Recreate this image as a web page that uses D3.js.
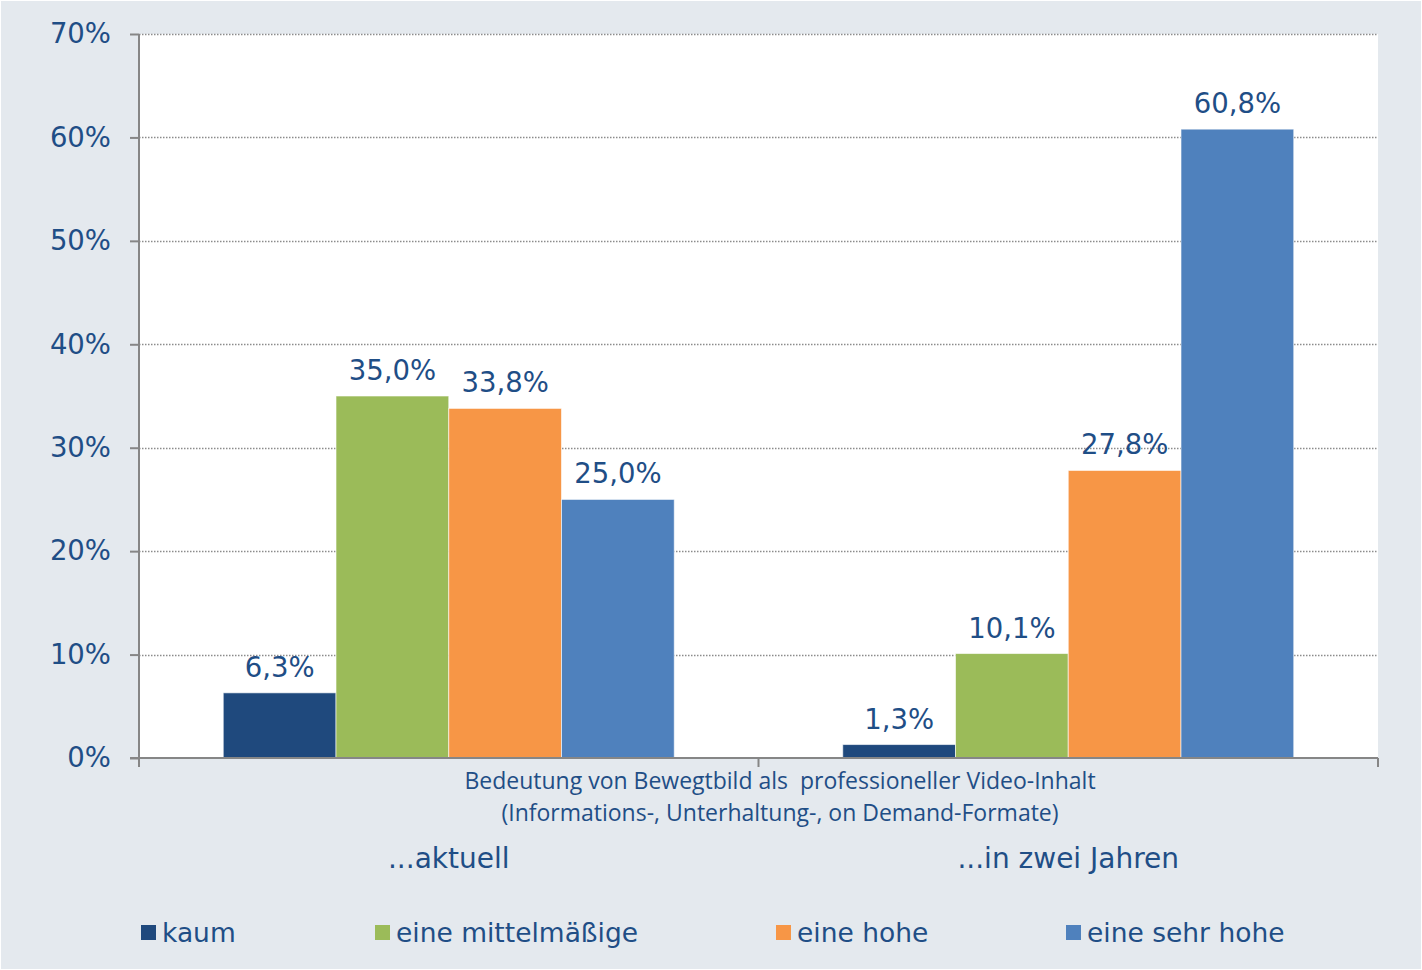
<!DOCTYPE html>
<html>
<head>
<meta charset="utf-8">
<script src="https://cdn.jsdelivr.net/npm/d3@7"></script>
<style>
  html, body { margin: 0; padding: 0; background: #ffffff; }
  svg { display: block; }
</style>
</head>
<body>
<div id="chart"></div>
<script>
// chart data
const categories = ['...aktuell', '...in zwei Jahren'];
const seriesNames = ['kaum', 'eine mittelmäßige', 'eine hohe', 'eine sehr hohe'];
const kaum = [6.3, 1.3];
const mittel = [35.0, 10.1];
const hohe = [33.8, 27.8];
const sehrHohe = [25.0, 60.8];
const yTicks = [0, 10, 20, 30, 40, 50, 60, 70];
const axisTitle = ['Bedeutung von Bewegtbild als  professioneller Video-Inhalt',
  '(Informations-, Unterhaltung-, on Demand-Formate)'];

const seriesValues = [kaum, mittel, hohe, sehrHohe];
const colors = ['#1f497d', '#9bbb59', '#f79646', '#4f81bd'];
const textColor = '#1f4e86';
const mainFont = 'DejaVu Sans, Verdana, sans-serif';

const W = 1422, H = 970;
const plot = { left: 139, right: 1378, top: 34, bottom: 758 };

const svg = d3.select('#chart').append('svg')
  .attr('width', W).attr('height', H);

// background
svg.append('rect').attr('x', 1).attr('y', 1).attr('width', W - 2).attr('height', H - 2)
  .attr('fill', '#e4e9ee');
svg.append('rect')
  .attr('x', plot.left).attr('y', plot.top)
  .attr('width', plot.right - plot.left).attr('height', plot.bottom - plot.top)
  .attr('fill', '#ffffff');

// scales
const y = d3.scaleLinear().domain([0, 70]).range([plot.bottom, plot.top]);
const x0 = d3.scaleBand().domain(categories).range([plot.left, plot.right])
  .paddingInner(0.272).paddingOuter(0.136);
const x1 = d3.scaleBand().domain(seriesNames).range([0, x0.bandwidth()]);

// grid lines
svg.append('g')
  .selectAll('line')
  .data(yTicks.filter(d => d > 0))
  .join('line')
  .attr('x1', plot.left).attr('x2', plot.right)
  .attr('y1', d => Math.round(y(d)) + 0.5).attr('y2', d => Math.round(y(d)) + 0.5)
  .attr('stroke', '#8c8c8c')
  .attr('stroke-width', 1.5)
  .attr('stroke-dasharray', '1.5,1.5');

// bars
const rows = categories.map((c, i) => ({ cat: c, vals: seriesNames.map((s, j) => ({ s, j, v: seriesValues[j][i] })) }));
const groups = svg.append('g').selectAll('g')
  .data(rows)
  .join('g')
  .attr('transform', d => `translate(${x0(d.cat)},0)`);

groups.selectAll('rect')
  .data(d => d.vals)
  .join('rect')
  .attr('x', d => x1(d.s))
  .attr('y', d => y(d.v))
  .attr('width', x1.bandwidth())
  .attr('height', d => y(0) - y(d.v))
  .attr('fill', d => colors[d.j])
  .attr('stroke', 'rgba(255,255,255,0.6)')
  .attr('stroke-width', 1);

// data labels
groups.selectAll('text')
  .data(d => d.vals)
  .join('text')
  .attr('x', d => x1(d.s) + x1.bandwidth() / 2)
  .attr('y', d => y(d.v) - 16)
  .attr('text-anchor', 'middle')
  .attr('font-family', mainFont)
  .attr('font-size', 27.5)
  .attr('fill', textColor)
  .text(d => d.v.toFixed(1).replace('.', ',') + '%');

// y axis
const yAxis = svg.append('g')
  .attr('transform', `translate(${plot.left},0)`)
  .call(d3.axisLeft(y).tickValues(yTicks).tickSize(9).tickPadding(19)
    .tickFormat(d => d + '%'));
yAxis.select('.domain').remove();
yAxis.append('line')
  .attr('x1', 0).attr('x2', 0).attr('y1', plot.top).attr('y2', plot.bottom + 9);
yAxis.selectAll('line').attr('stroke', '#868686').attr('stroke-width', 2);
yAxis.selectAll('text')
  .attr('font-family', mainFont)
  .attr('font-size', 27.5)
  .attr('fill', textColor);

// x axis
const xAxis = svg.append('g');
xAxis.append('line')
  .attr('x1', plot.left - 9).attr('x2', plot.right)
  .attr('y1', plot.bottom).attr('y2', plot.bottom)
  .attr('stroke', '#868686').attr('stroke-width', 2);
xAxis.selectAll('line.tick')
  .data([plot.left + x0.step(), plot.right])
  .join('line')
  .attr('class', 'tick')
  .attr('x1', d => d).attr('x2', d => d)
  .attr('y1', plot.bottom).attr('y2', plot.bottom + 9)
  .attr('stroke', '#868686').attr('stroke-width', 2);

// axis title (two lines)
svg.append('g').selectAll('text')
  .data(axisTitle)
  .join('text')
  .attr('x', 780)
  .attr('y', (d, i) => 789 + i * 32)
  .attr('text-anchor', 'middle')
  .attr('font-family', 'Open Sans, sans-serif')
  .attr('font-size', 23)
  .attr('fill', textColor)
  .style('white-space', 'pre')
  .attr('xml:space', 'preserve')
  .text(d => d);

// category labels
svg.append('g').selectAll('text')
  .data(categories)
  .join('text')
  .attr('x', d => x0(d) + x0.bandwidth() / 2)
  .attr('y', 868)
  .attr('text-anchor', 'middle')
  .attr('font-family', mainFont)
  .attr('font-size', 28)
  .attr('fill', textColor)
  .text(d => d);

// legend
const legendX = [141, 375, 776, 1066];
const legend = svg.append('g').selectAll('g')
  .data(seriesNames)
  .join('g')
  .attr('transform', (d, i) => `translate(${legendX[i]},925)`);
legend.append('rect')
  .attr('width', 15).attr('height', 15)
  .attr('fill', (d, i) => colors[i]);
legend.append('text')
  .attr('x', 21).attr('y', 17)
  .attr('font-family', mainFont)
  .attr('font-size', 26.5)
  .attr('fill', textColor)
  .text(d => d);
</script>
</body>
</html>
